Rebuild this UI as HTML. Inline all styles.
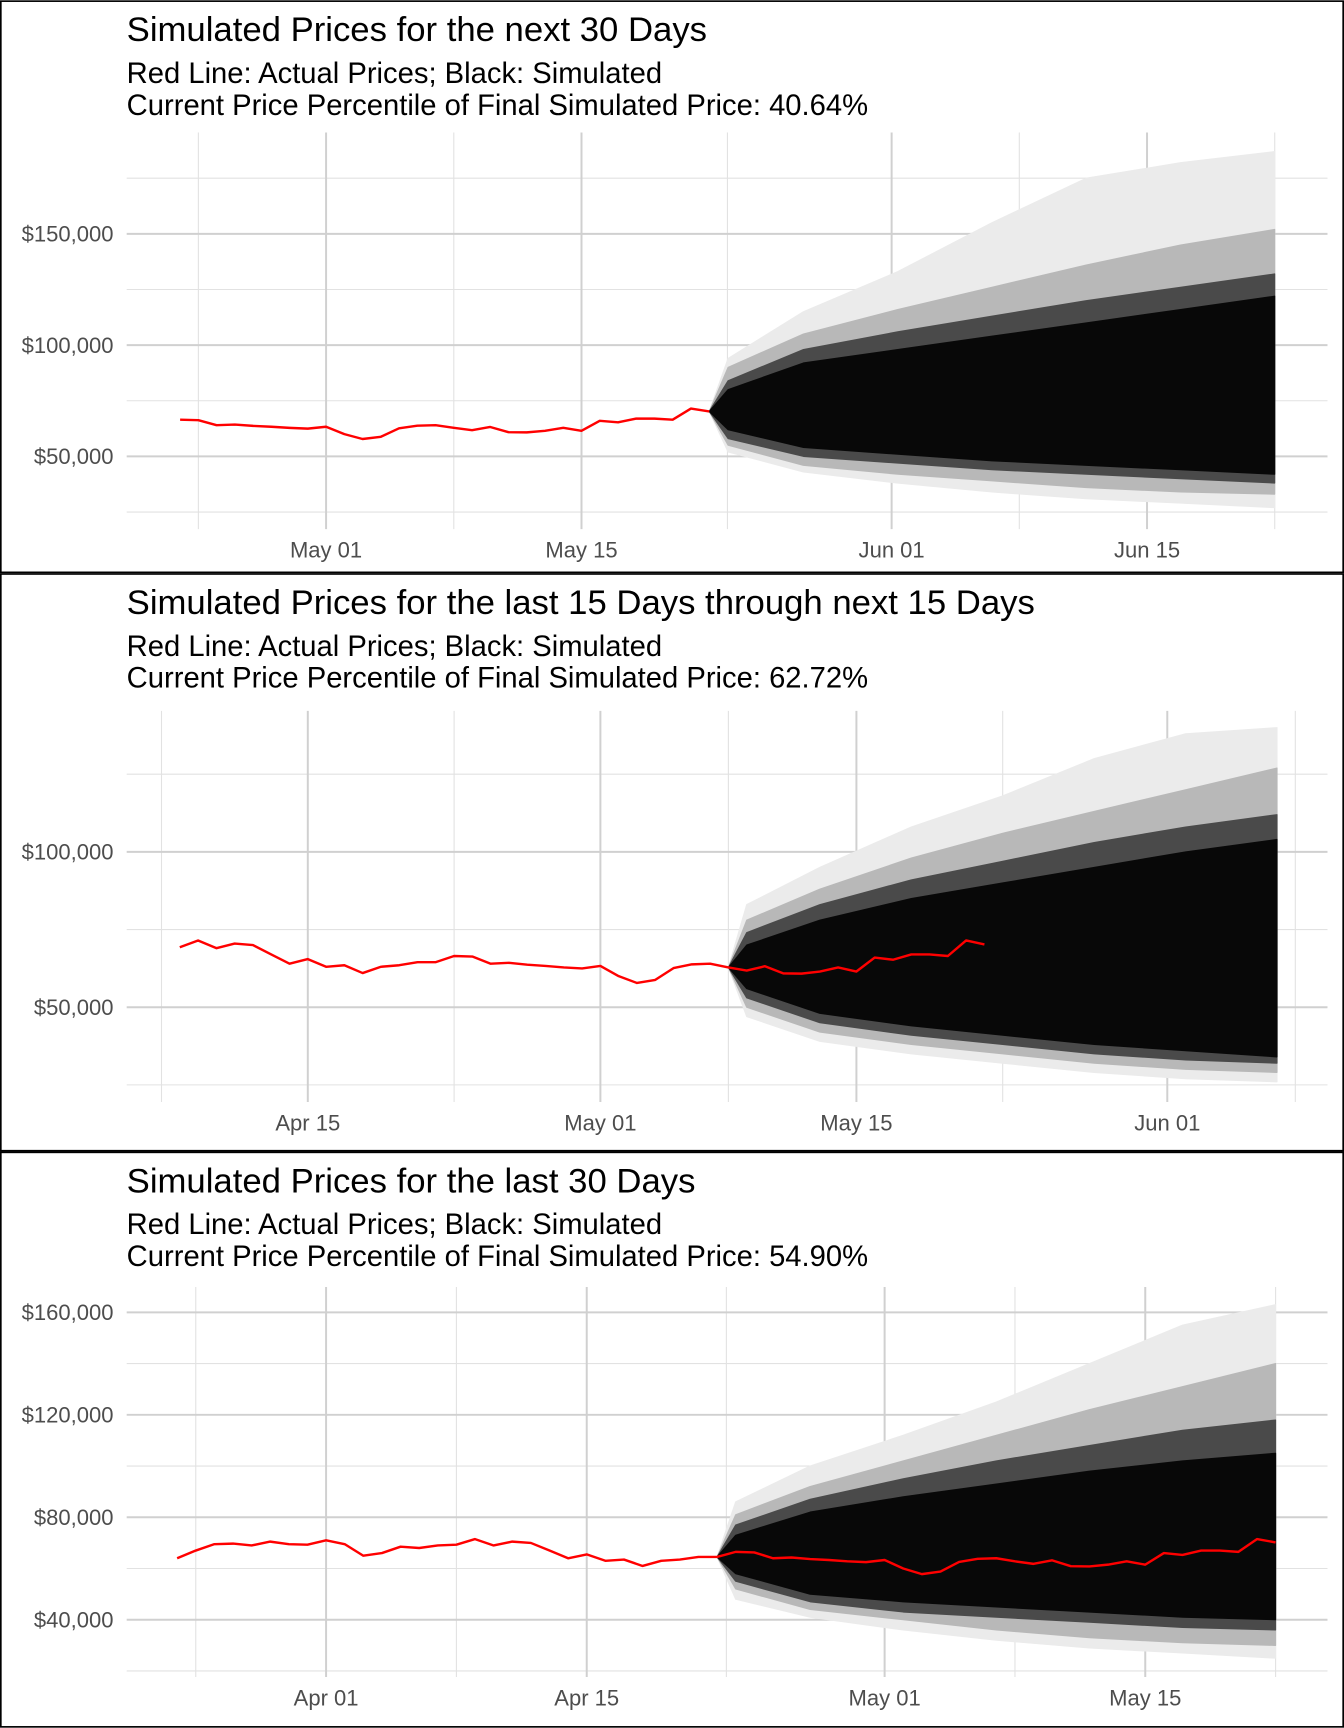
<!DOCTYPE html>
<html><head><meta charset="utf-8"><style>
html,body{margin:0;padding:0;background:#fff}
svg{display:block;font-family:"Liberation Sans",Arial,sans-serif}
</style></head><body>
<svg id="chart" width="1344" height="1728" viewBox="0 0 1220 1568" xmlns="http://www.w3.org/2000/svg"></svg>
<script>
// Actual prices (thousands USD), daily from Mar 24 (index 0) to May 22 (index 59)
const actual = [64,67,69.5,69.7,69,70.5,69.5,69.3,71,69.5,65,66,68.5,68,69,69.3,71.5,69,70.5,70,67,64,65.5,63,63.5,61,63,63.5,64.5,64.5,
66.5,66.3,64,64.3,63.7,63.3,62.8,62.5,63.3,60,57.8,58.8,62.6,63.8,64,62.8,61.8,63.2,60.9,60.8,61.5,62.8,61.5,66,65.3,67,67,66.5,71.5,70.2];
const bandSteps = [0,1,5,10,15,20,25,30];
// Panel 1 envelopes
const p1CoreUp = [70.2,80,92,98,104,110,116,122];
const p1CoreLo = [70.2,62,54,51,48,46,44,42];
const p1NearUp = [70.2,84,98,106,113,120,126,132];
const p1NearLo = [70.2,58,50,47,44,42,40,38];
const p1MidUp = [70.2,90,105,116,126,136,145,152];
const p1MidLo = [70.2,55,46,42,39,36,34,33];
const p1OutUp = [70.2,94,115,133,155,175,182,187];
const p1OutLo = [70.2,52,43,38,34,31,29,27];
// Panel 2 envelopes
const p2CoreUp = [62.8,70,78,85,90,95,100,104];
const p2CoreLo = [62.8,56,48,44,41,38,36,34];
const p2NearUp = [62.8,74,83,91,97,103,108,112];
const p2NearLo = [62.8,53,45,41,38,35,33,32];
const p2MidUp = [62.8,78,88,98,106,113,120,127];
const p2MidLo = [62.8,50,42,38,35,32,30,29];
const p2OutUp = [62.8,83,95,108,118,130,138,140];
const p2OutLo = [62.8,47,39,35,32,29,27,26];
// Panel 3 envelopes
const p3CoreUp = [64.5,73,82,88,93,98,102,105];
const p3CoreLo = [64.5,58,50,47,45,43,41,40];
const p3NearUp = [64.5,77,87,95,102,108,114,118];
const p3NearLo = [64.5,55,47,43,41,39,37,36];
const p3MidUp = [64.5,81,92,102,112,122,131,140];
const p3MidLo = [64.5,52,44,40,36,33,31,30];
const p3OutUp = [64.5,86,100,112,125,140,155,163];
const p3OutLo = [64.5,48,41,36,32,29,27,25];
// Tick labels
const p1YTicks = [50,100,150], p1YLabels = ["$50,000","$100,000","$150,000"];
const p1XTicks = [38,52,69,83], p1XLabels = ["May 01","May 15","Jun 01","Jun 15"];
const p2YTicks = [50,100], p2YLabels = ["$50,000","$100,000"];
const p2XTicks = [22,38,52,69], p2XLabels = ["Apr 15","May 01","May 15","Jun 01"];
const p3YTicks = [40,80,120,160], p3YLabels = ["$40,000","$80,000","$120,000","$160,000"];
const p3XTicks = [8,22,38,52], p3XLabels = ["Apr 01","Apr 15","May 01","May 15"];

const NS="http://www.w3.org/2000/svg", svg=document.getElementById('chart');
function mk(tag,attrs,parent){const e=document.createElementNS(NS,tag);for(const k in attrs)e.setAttribute(k,attrs[k]);(parent||svg).appendChild(e);return e;}

const panels=[
 {top:0,h:520,title:"Simulated Prices for the next 30 Days",pct:"40.64%",name:"next-30",
  px0:115,px1:1205,py0:120,py1:480,x:d=>296+(d-38)*16.56,y:v=>414-(v-50)*101/50,
  yMinor:[25,75,125,175],xMinor:[31,45,60,76,90],yT:p1YTicks,yL:p1YLabels,xT:p1XTicks,xL:p1XLabels,
  redFrom:30,redTo:59,simStart:59,simScale:31/30,b:[p1OutUp,p1OutLo,p1MidUp,p1MidLo,p1NearUp,p1NearLo,p1CoreUp,p1CoreLo]},
 {top:520,h:525,title:"Simulated Prices for the last 15 Days through next 15 Days",pct:"62.72%",name:"mid-15",
  px0:115,px1:1205,py0:645,py1:1000,x:d=>545+(d-38)*16.6,y:v=>914-(v-50)*141/50,
  yMinor:[25,75,125],xMinor:[14,30,45,60,76],yT:p2YTicks,yL:p2YLabels,xT:p2XTicks,xL:p2XLabels,
  redFrom:15,redTo:59,simStart:45,simScale:1,b:[p2OutUp,p2OutLo,p2MidUp,p2MidLo,p2NearUp,p2NearLo,p2CoreUp,p2CoreLo]},
 {top:1045,h:523,title:"Simulated Prices for the last 30 Days",pct:"54.90%",name:"last-30",
  px0:115,px1:1205,py0:1168,py1:1522,x:d=>296+(d-8)*16.9,y:v=>1470-(v-40)*93/40,
  yMinor:[20,60,100,140],xMinor:[1,15,29.5,45,59],yT:p3YTicks,yL:p3YLabels,xT:p3XTicks,xL:p3XLabels,
  redFrom:0,redTo:59,simStart:29,simScale:1,b:[p3OutUp,p3OutLo,p3MidUp,p3MidLo,p3NearUp,p3NearLo,p3CoreUp,p3CoreLo]}
];

panels.forEach((p,i)=>{
 const g=mk('g',{});
 
 
 const box=mk('rect',{x:0.75,y:p.top+0.75,width:1218.5,height:p.h-1.5,fill:'#fff',stroke:'#000','stroke-width':1.5},g);
 
 const t=mk('text',{x:115,y:p.top+37,'font-size':31.5,fill:'#000'},g);t.textContent=p.title;
 
 const s1=mk('text',{x:115,y:p.top+75,'font-size':26.5,fill:'#000'},g);s1.textContent="Red Line: Actual Prices; Black: Simulated";
 
 const s2=mk('text',{x:115,y:p.top+104,'font-size':26.5,fill:'#000'},g);s2.textContent="Current Price Percentile of Final Simulated Price: "+p.pct;
 
 p.yMinor.forEach(v=>{const yy=p.y(v);if(yy<p.py0||yy>p.py1)return;const l=mk('line',{x1:p.px0,x2:p.px1,y1:yy,y2:yy,stroke:'#e2e2e2','stroke-width':1},g);
  });
 p.xMinor.forEach(d=>{const xx=p.x(d);if(xx<p.px0||xx>p.px1)return;const l=mk('line',{x1:xx,x2:xx,y1:p.py0,y2:p.py1,stroke:'#e2e2e2','stroke-width':1},g);
  });
 p.yT.forEach((v,k)=>{const yy=p.y(v);const l=mk('line',{x1:p.px0,x2:p.px1,y1:yy,y2:yy,stroke:'#d0d0d0','stroke-width':1.8},g);
  
  const tx=mk('text',{x:p.px0-12,y:yy+7,'font-size':20,fill:'#4d4d4d','text-anchor':'end'},g);tx.textContent=p.yL[k];
  });
 p.xT.forEach((d,k)=>{const xx=p.x(d);const l=mk('line',{x1:xx,x2:xx,y1:p.py0,y2:p.py1,stroke:'#d0d0d0','stroke-width':1.8},g);
  
  const tx=mk('text',{x:xx,y:p.py1+26,'font-size':20,fill:'#4d4d4d','text-anchor':'middle'},g);tx.textContent=p.xL[k];
  });
 const fills=['#ebebeb','#b8b8b8','#4a4a4a','#080808'];
 const bandNames=['sim-outer-band','sim-mid-band','sim-near-band','sim-core-band'];
 for(let b=0;b<4;b++){
  const up=p.b[b*2],lo=p.b[b*2+1];
  const pts=[];
  bandSteps.forEach((st,k)=>pts.push(p.x(p.simStart+st*p.simScale).toFixed(1)+','+p.y(up[k]).toFixed(1)));
  for(let k=bandSteps.length-1;k>=0;k--)pts.push(p.x(p.simStart+bandSteps[k]*p.simScale).toFixed(1)+','+p.y(lo[k]).toFixed(1));
  const poly=mk('polygon',{points:pts.join(' '),fill:fills[b],stroke:fills[b],'stroke-width':1,'stroke-linejoin':'round'},g);
  
 }
 const rp=[];for(let d=p.redFrom;d<=p.redTo;d++)rp.push(p.x(d).toFixed(1)+','+p.y(actual[d]).toFixed(1));
 const red=mk('polyline',{points:rp.join(' '),fill:'none',stroke:'#ff0000','stroke-width':2.2,'stroke-linejoin':'round'},g);
 
});
</script>
</body></html>
